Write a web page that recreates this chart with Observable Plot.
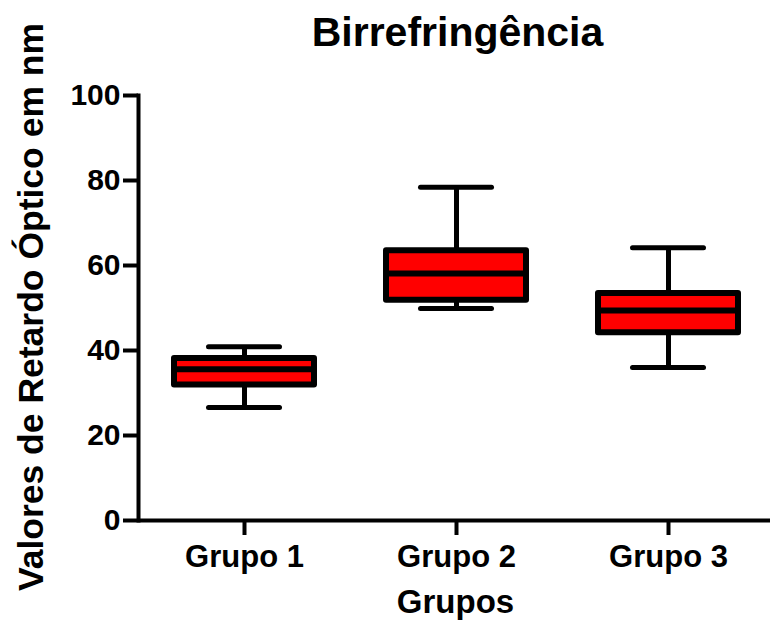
<!DOCTYPE html>
<html>
<head>
<meta charset="utf-8">
<script src="https://cdn.jsdelivr.net/npm/d3@7"></script>
<script src="https://cdn.jsdelivr.net/npm/@observablehq/plot@0.6"></script>
<style>
  html, body { margin: 0; padding: 0; background: #fff; }
  #chart { width: 770px; height: 623px; }
</style>
</head>
<body>
<div id="chart"></div>
<script>
const groups = ["Grupo 1", "Grupo 2", "Grupo 3"];
const mins = [26.6, 49.9, 36.0];
const q1s = [31.9, 51.8, 44.2];
const medians = [35.6, 58.1, 49.4];
const q3s = [38.1, 63.5, 53.4];
const maxs = [40.9, 78.4, 64.2];
const yTicks = [0, 20, 40, 60, 80, 100];
const title = "Birrefringência";
const xLabel = "Grupos";
const yLabel = "Valores de Retardo Óptico em nm";

const data = groups.map((g, i) => ({
  group: g, min: mins[i], q1: q1s[i], median: medians[i], q3: q3s[i], max: maxs[i]
}));

const font = "'Liberation Sans', Arial, Helvetica, sans-serif";

const chart = Plot.plot({
  width: 770,
  height: 623,
  marginTop: 95,
  marginBottom: 103,
  marginLeft: 138,
  marginRight: 0,
  style: { fontFamily: font, fontWeight: "bold", background: "#fff", color: "#000", overflow: "visible" },
  x: { domain: groups, range: [138, 773], paddingInner: 0.34, paddingOuter: 0.165, label: null },
  y: { domain: [0, 100], label: null },
  marks: [
    Plot.ruleX(data, { x: "group", y1: "min", y2: "q1", stroke: "#000", strokeWidth: 5 }),
    Plot.ruleX(data, { x: "group", y1: "q3", y2: "max", stroke: "#000", strokeWidth: 5 }),
    Plot.tickY(data, { x: "group", y: "min", stroke: "#000", strokeWidth: 5, strokeLinecap: "round", inset: 34.5 }),
    Plot.tickY(data, { x: "group", y: "max", stroke: "#000", strokeWidth: 5, strokeLinecap: "round", inset: 34.5 }),
    Plot.barY(data, { x: "group", y1: "q1", y2: "q3", fill: "#ff0000", stroke: "#000", strokeWidth: 6, strokeLinejoin: "round" }),
    Plot.tickY(data, { x: "group", y: "median", stroke: "#000", strokeWidth: 6 }),
    Plot.axisY({ ticks: yTicks, tickSize: 15, tickPadding: 3, fontSize: 30, fontWeight: "bold", strokeWidth: 4, label: null }),
    Plot.axisX({ tickSize: 15, tickPadding: 9, fontSize: 31, fontWeight: "bold", strokeWidth: 4, label: null }),
    Plot.frame({ anchor: "left", stroke: "#000", strokeWidth: 4 }),
    Plot.ruleY([0], { stroke: "#000", strokeWidth: 4 }),
    Plot.text([title], { frameAnchor: "top", dx: 3, dy: -63, lineAnchor: "middle", fontSize: 41, fontWeight: "bold", fill: "#000" }),
    Plot.text([xLabel], { frameAnchor: "bottom", dx: 1, dy: 82, lineAnchor: "middle", fontSize: 33, fontWeight: "bold", fill: "#000" }),
    Plot.text([yLabel], { frameAnchor: "left", textAnchor: "middle", dx: -107, dy: -1, rotate: -90, lineAnchor: "middle", fontSize: 35.5, fontWeight: "bold", fill: "#000" })
  ]
});
document.getElementById("chart").appendChild(chart);
</script>
</body>
</html>
